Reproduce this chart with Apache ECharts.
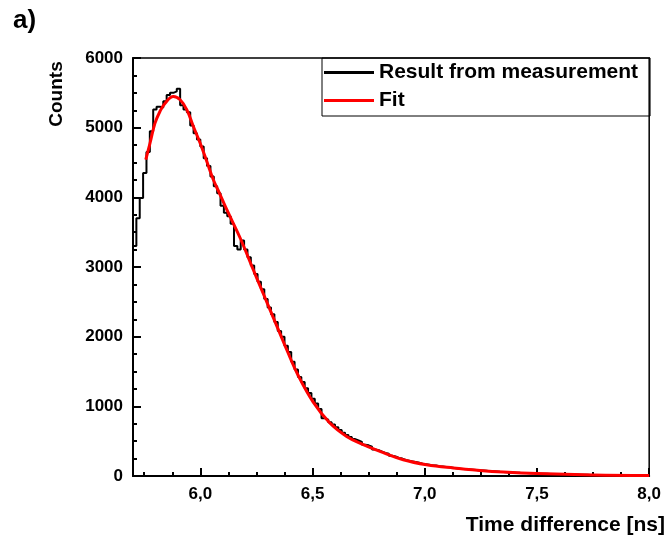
<!DOCTYPE html>
<html>
<head>
<meta charset="utf-8">
<script src="https://cdn.jsdelivr.net/npm/echarts@6/dist/echarts.min.js"></script>
<style>
html,body{margin:0;padding:0;background:#fff;}
#chart{width:664px;height:541px;}
</style>
</head>
<body>
<div id="chart"></div>
<script>
// ---- data ----
const binStart = 5.70;
const binWidth = 0.015;
const measuredCounts = [
  3300,3700,3990,4350,4650,4950,5260,5300,5290,5380,
  5470,5500,5520,5560,5320,5260,5220,5030,4920,4830,
  4730,4560,4450,4300,4160,4060,3880,3780,3730,3620,
  3300,3250,3380,3250,3140,3020,2900,2790,2680,2540,
  2420,2320,2210,2080,2000,1870,1780,1640,1530,1420,
  1350,1260,1190,1110,1040,960,830,810,770,740,
  700,660,620,590,560,530,510,490,450,440,
  420,380,370,350,330,320,290,280,260,250,
  230,220,210,200,190,175,170,160,150,150,
  140,135,130,125,120,110,105,100,100,95,
  90,85,80,80,75,70,68,65,60,58,
  55,52,50,48,45,44,42,40,38,36,
  34,32,31,30,28,27,26,24,23,22,
  21,20,19,18,17,16,16,15,14,13,
  13,12,12,11,11,10,10,9,9,9,
  8,8,8
];
const fitX = [5.757,5.776,5.798,5.820,5.843,5.880,5.910,5.940,5.969,5.999,
  6.029,6.058,6.088,6.118,6.177,6.236,6.266,6.300,6.355,6.385,
  6.435,6.503,6.577,6.652,6.726,6.800,6.904,7.008,7.127,7.246,
  7.350,7.500,7.750,8.000];
const fitY = [4540,4780,5065,5232,5352,5447,5400,5256,5017,4780,
  4515,4252,4040,3822,3420,2960,2729,2467,2043,1812,
  1450,1060,760,568,449,353,234,162,115,80,
  57,35,15,8];
const xMajorTicks = [6.0,6.5,7.0,7.5,8.0];
const xMinorTicks = [5.75,5.875,6.125,6.25,6.375,6.625,6.75,6.875,7.125,7.25,7.375,7.625,7.75,7.875];
const seriesNames = ['Result from measurement','Fit'];

// ---- build series data ----
const histData = measuredCounts.map((v,i)=>[binStart + i*binWidth, v]);
histData.push([binStart + measuredCounts.length*binWidth, measuredCounts[measuredCounts.length-1]]);
const fitData = fitX.map((x,i)=>[x, fitY[i]]);

const FONT = '"Liberation Sans", Arial, sans-serif';
const chart = echarts.init(document.getElementById('chart'), null, {renderer:'canvas'});
chart.setOption({
  animation:false,
  backgroundColor:'#fff',
  grid:{left:133, right:14, top:58, bottom:65, show:true, borderColor:'#000', borderWidth:1.5, backgroundColor:'transparent'},
  legend:{
    left:322, top:58, orient:'vertical',
    borderColor:'#000', borderWidth:1, padding:[4,12,5,2],
    itemGap:7, itemWidth:50, itemHeight:3, icon:'rect',
    textStyle:{fontFamily:FONT, fontWeight:'bold', fontSize:21, color:'#000'},
    data:[{name:seriesNames[0], icon:'rect'},{name:seriesNames[1], icon:'rect'}]
  },
  xAxis:[{
    type:'value', min:5.7, max:8.0,
    axisLine:{show:true, lineStyle:{color:'#000', width:2}},
    axisTick:{show:true, inside:true, length:8, lineStyle:{color:'#000', width:2}, customValues:xMajorTicks},
    axisLabel:{color:'#000', fontFamily:FONT, fontWeight:'bold', fontSize:17, margin:10,
      customValues:xMajorTicks,
      formatter:v=>v.toFixed(1).replace('.',',')},
    splitLine:{show:false}
  },{
    type:'value', min:5.7, max:8.0, position:'bottom',
    axisLine:{show:false},
    axisTick:{show:true, inside:true, length:4, lineStyle:{color:'#000', width:2}, customValues:xMinorTicks},
    axisLabel:{show:false},
    splitLine:{show:false}
  }],
  yAxis:{
    type:'value', min:0, max:6000, interval:1000,
    axisLine:{show:true, lineStyle:{color:'#000', width:2}},
    axisTick:{show:true, inside:true, length:8, lineStyle:{color:'#000', width:2}},
    minorTick:{show:true, splitNumber:4, length:4, lineStyle:{color:'#000', width:2}},
    axisLabel:{color:'#000', fontFamily:FONT, fontWeight:'bold', fontSize:17, margin:10,
      formatter:v=>String(v)},
    splitLine:{show:false}
  },
  series:[{
    name:seriesNames[0], type:'line', step:'end', data:histData,
    symbol:'none', lineStyle:{color:'#000', width:2}, itemStyle:{color:'#000'}, z:2
  },{
    name:seriesNames[1], type:'line', smooth:0.4, data:fitData,
    symbol:'none', lineStyle:{color:'#ff0000', width:3}, itemStyle:{color:'#ff0000'}, z:3
  }],
  graphic:[
    {type:'text', left:13, top:8, style:{text:'a)', fontFamily:FONT, fontWeight:'bold', fontSize:26, fill:'#000'}},
    {type:'text', x:57, y:94, rotation:Math.PI/2, style:{text:'Counts', fontFamily:FONT, fontWeight:'bold', fontSize:19, fill:'#000', align:'center', verticalAlign:'middle'}},
    {type:'text', x:665, y:525, style:{text:'Time difference [ns]', fontFamily:FONT, fontWeight:'bold', fontSize:21, fill:'#000', align:'right', verticalAlign:'middle'}}
  ]
});
</script>
</body>
</html>
